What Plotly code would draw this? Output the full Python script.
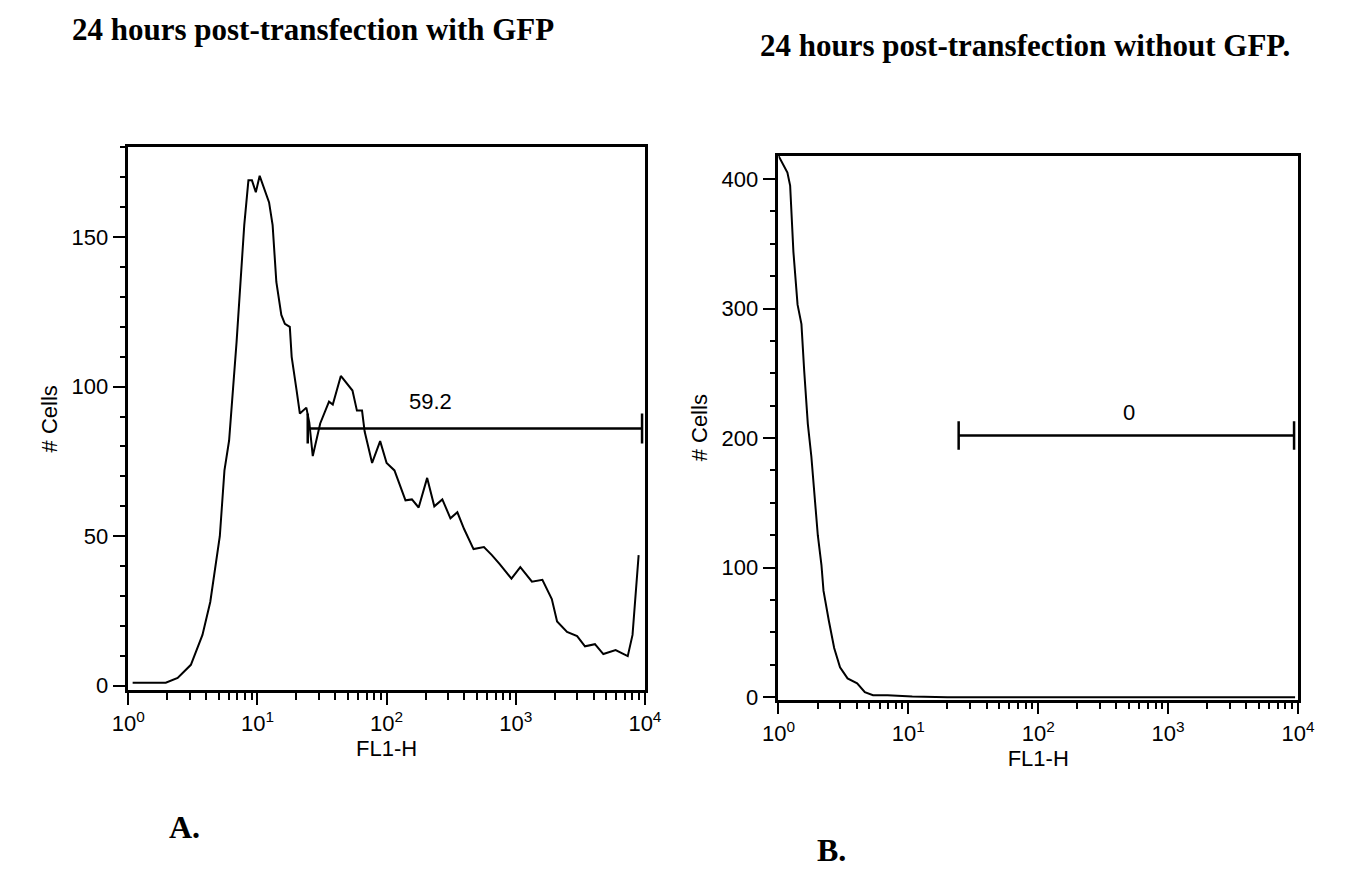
import numpy as np
import plotly.graph_objects as go

# ---------------- data ----------------
# Panel A: 24 hours post-transfection with GFP (FL1-H histogram)
fl1_a = [1.08, 1.95, 2.41, 3.05, 3.75, 4.31, 5.11, 5.55, 6.03, 6.89,
         7.9, 8.51, 9.06, 9.71, 10.4, 11.1, 12.3, 13.1, 14.0, 15.3,
         16.3, 17.8, 18.4, 20.1, 21.3, 23.9, 25.2, 26.8, 30.6, 35.8,
         38.3, 44.2, 48.0, 54.4, 58.9, 64.5, 67.6, 77.2, 89.1, 100,
         115, 126, 140, 157, 177, 206, 234, 270, 312, 353,
         398, 471, 567, 653, 751, 926, 1084, 1334, 1607, 1901,
         2089, 2495, 2985, 3436, 4102, 4764, 5931, 7362, 8017, 8939]
cells_a = [1, 1, 2.6, 7, 17, 28, 50, 72, 82, 115,
           154, 169, 169, 165, 170.5, 167, 161.6, 154, 135, 124,
           121, 120, 110, 98.7, 91, 93, 88, 76.8, 87.7, 95,
           94, 103.6, 101.6, 98.7, 92, 92, 85, 74.5, 81.8, 74.5,
           72, 67, 62, 62.3, 59.6, 69.5, 60, 62.3, 56, 58,
           52.4, 45.7, 46.4, 43.7, 40.7, 35.8, 39.7, 34.8, 35.4, 29,
           21.5, 18, 16.6, 13.2, 13.9, 10.6, 11.9, 9.9, 17, 43.7]

# Panel B: 24 hours post-transfection without GFP
fl1_b = [1.0, 1.172, 1.23, 1.268, 1.303, 1.403, 1.503, 1.578, 1.683, 1.791,
         1.892, 2.009, 2.143, 2.223, 2.443, 2.685, 2.979, 3.404, 4.036, 4.624,
         5.346, 6.918, 10.72, 20, 100, 1000, 9500]
cells_b = [418, 405, 395, 369, 344, 303, 288, 252, 211, 186,
           156, 125, 102, 82, 59, 38, 23, 14.5, 10.7, 3.8,
           1.5, 1.5, 0.5, 0, 0, 0, 0]

# Marker (gate) regions and their percentages
gate_a = [24.5, 9500]
gate_a_level = 86
gate_a_label = "59.2"
gate_a_label_pos = [220, 95]

gate_b = [24.4, 9330]
gate_b_level = 202
gate_b_label = "0"
gate_b_label_pos = [500, 220]

x_tick_vals = [1, 10, 100, 1000, 10000]
x_tick_text = ["10<sup>0</sup>", "10<sup>1</sup>", "10<sup>2</sup>", "10<sup>3</sup>", "10<sup>4</sup>"]
x_minor_vals = [d * 10 ** k for k in range(4) for d in range(2, 10)]

titles = ["24 hours post-transfection with GFP", "24 hours post-transfection without GFP."]
panel_labels = ["A.", "B."]

# ---------------- figure ----------------
W, H = 1345, 890
BLACK = "black"
SANS = "Liberation Sans, Arial, sans-serif"
SERIF = "Liberation Serif, Times New Roman, serif"


def gate_trace(gate, level, cap, xa, ya):
    g0, g1 = gate
    return go.Scatter(
        x=[g0, g1, None, g0, g0, None, g1, g1],
        y=[level, level, None, level - cap, level + cap, None, level - cap, level + cap],
        mode="lines", line=dict(color=BLACK, width=2.5),
        xaxis=xa, yaxis=ya, showlegend=False, hoverinfo="skip")


fig = go.Figure()
fig.add_trace(go.Scatter(x=fl1_a, y=cells_a, mode="lines",
                         line=dict(color=BLACK, width=2), showlegend=False,
                         xaxis="x", yaxis="y"))
fig.add_trace(gate_trace(gate_a, gate_a_level, 5, "x", "y"))
fig.add_trace(go.Scatter(x=fl1_b, y=cells_b, mode="lines",
                         line=dict(color=BLACK, width=2), showlegend=False,
                         xaxis="x2", yaxis="y2"))
fig.add_trace(gate_trace(gate_b, gate_b_level, 11, "x2", "y2"))


def px_x(p):
    return p / W


def px_y(p):
    return 1 - p / H


common_x = dict(type="log", range=[0, 4], showline=True, linecolor=BLACK, linewidth=2.5,
                mirror=True, ticks="outside", ticklen=12, tickwidth=2, tickcolor=BLACK,
                tickmode="array", tickvals=x_tick_vals, ticktext=x_tick_text,
                tickfont=dict(family=SANS, size=22, color=BLACK),
                minor=dict(tickmode="array", tickvals=x_minor_vals, ticks="outside",
                           ticklen=7, tickwidth=2, tickcolor=BLACK, showgrid=False),
                showgrid=False, zeroline=False,
                title=dict(text="FL1-H", font=dict(family=SANS, size=22, color=BLACK), standoff=2))
common_y = dict(showline=True, linecolor=BLACK, linewidth=2.5, mirror=True,
                ticks="outside", ticklen=13, tickwidth=2, tickcolor=BLACK,
                tickfont=dict(family=SANS, size=22, color=BLACK),
                showgrid=False, zeroline=False, tick0=0,
                title=dict(text="# Cells", font=dict(family=SANS, size=22, color=BLACK), standoff=8))

fig.update_layout(
    width=W, height=H, margin=dict(l=0, r=0, t=0, b=0),
    paper_bgcolor="white", plot_bgcolor="white", showlegend=False,
    xaxis=dict(common_x, domain=[px_x(106), px_x(636)], anchor="y"),
    yaxis=dict(common_y, domain=[px_y(690), px_y(141)], anchor="x", range=[-1.5, 180], dtick=50,
               minor=dict(dtick=10, tick0=0, ticks="outside", ticklen=6, tickwidth=2,
                          tickcolor=BLACK, showgrid=False)),
    xaxis2=dict(common_x, domain=[px_x(773), px_x(1306)], anchor="y2"),
    yaxis2=dict(common_y, domain=[px_y(699.6), px_y(149.4)], anchor="x2", range=[-2, 418], dtick=100,
                minor=dict(dtick=25, tick0=0, ticks="outside", ticklen=6, tickwidth=2,
                           tickcolor=BLACK, showgrid=False)),
)

annotations = [
    dict(text=gate_a_label, x=np.log10(gate_a_label_pos[0]), y=gate_a_label_pos[1],
         xref="x", yref="y", showarrow=False,
         font=dict(family=SANS, size=22, color=BLACK)),
    dict(text=gate_b_label, x=np.log10(gate_b_label_pos[0]), y=gate_b_label_pos[1],
         xref="x2", yref="y2", showarrow=False,
         font=dict(family=SANS, size=22, color=BLACK)),
    dict(text="<b>" + titles[0] + "</b>", x=px_x(46), y=px_y(22), xref="paper", yref="paper",
         xanchor="left", yanchor="middle", showarrow=False,
         font=dict(family=SERIF, size=31, color=BLACK)),
    dict(text="<b>" + titles[1] + "</b>", x=px_x(752), y=px_y(38), xref="paper", yref="paper",
         xanchor="left", yanchor="middle", showarrow=False,
         font=dict(family=SERIF, size=31, color=BLACK)),
    dict(text="<b>" + panel_labels[0] + "</b>", x=px_x(146), y=px_y(828), xref="paper", yref="paper",
         xanchor="left", yanchor="middle", showarrow=False,
         font=dict(family=SERIF, size=32, color=BLACK)),
    dict(text="<b>" + panel_labels[1] + "</b>", x=px_x(810), y=px_y(852), xref="paper", yref="paper",
         xanchor="left", yanchor="middle", showarrow=False,
         font=dict(family=SERIF, size=32, color=BLACK)),
]
fig.update_layout(annotations=annotations)

fig.write_html("out.html")
